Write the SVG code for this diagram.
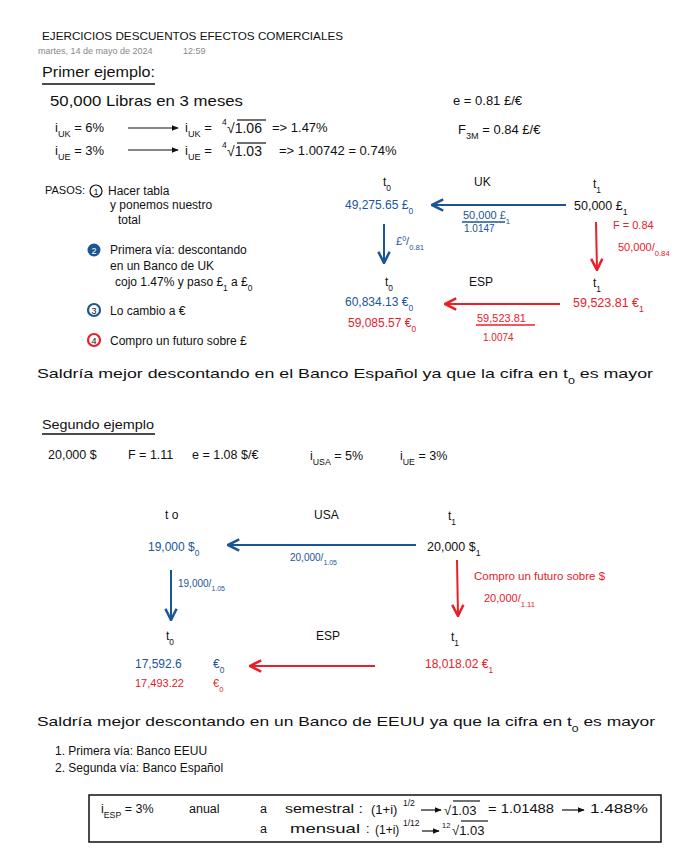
<svg xmlns="http://www.w3.org/2000/svg" width="694" height="848" viewBox="0 0 694 848">
<style>
text{font-family:"Liberation Sans","DejaVu Sans",sans-serif;fill:#111;}
.t{font-size:13px;}
.bl{fill:#1c5596;}
.rd{fill:#e8202a;}
.sub{font-size:70%;baseline-shift:sub;}
.sup{font-size:65%;baseline-shift:super;}
.ul{stroke:#111;stroke-width:1.4;fill:none;}
.ab{stroke:#1c5596;stroke-width:2;fill:none;}
.ar{stroke:#e8202a;stroke-width:2;fill:none;}
.ak{stroke:#111;stroke-width:1.2;fill:none;}
</style>
<defs>
<marker id="hb" viewBox="0 0 10 10" refX="9" refY="5" markerWidth="7" markerHeight="7" orient="auto-start-reverse"><path d="M1,1 L9,5 L1,9" fill="none" stroke="#1c5596" stroke-width="1.8"/></marker>
<marker id="hr" viewBox="0 0 10 10" refX="9" refY="5" markerWidth="7" markerHeight="7" orient="auto-start-reverse"><path d="M1,1 L9,5 L1,9" fill="none" stroke="#e8202a" stroke-width="1.8"/></marker>
<marker id="hk" viewBox="0 0 10 10" refX="9" refY="5" markerWidth="6" markerHeight="6" orient="auto"><path d="M0,1 L10,5 L0,9 Z" fill="#111"/></marker>
</defs>
<rect width="694" height="848" fill="#fff"/>

<g id="header">
<text x="42" y="40" font-size="11.5" textLength="301" lengthAdjust="spacingAndGlyphs">EJERCICIOS DESCUENTOS EFECTOS COMERCIALES</text>
<text x="38" y="54" font-size="9" style="fill:#888">martes, 14 de mayo de 2024</text>
<text x="183" y="54" font-size="9" style="fill:#888">12:59</text>
</g>

<g id="primer-ejemplo">
<text x="42" y="77" font-size="15" textLength="113" lengthAdjust="spacingAndGlyphs">Primer ejemplo:</text>
<line class="ul" x1="42" y1="84" x2="155" y2="84" stroke-width="2"/>
<text x="50" y="106" font-size="14.5" textLength="193" lengthAdjust="spacingAndGlyphs">50,000 Libras en 3 meses</text>
<text x="453" y="105" font-size="13">e = 0.81 £/€</text>
<text x="458" y="134" font-size="13">F<tspan class="sub">3M</tspan> = 0.84 £/€</text>
<text x="55" y="132" class="t">i<tspan class="sub">UK</tspan> = 6%</text>
<line class="ak" x1="128" y1="128" x2="178" y2="128" marker-end="url(#hk)"/>
<text x="185" y="132" class="t">i<tspan class="sub">UK</tspan> =</text>
<text x="222" y="125" font-size="8.5">4</text>
<text x="227" y="133" font-size="14">√1.06</text>
<line class="ak" x1="237" y1="120" x2="266" y2="120"/>
<text x="272" y="132" class="t">=&gt; 1.47%</text>
<text x="55" y="155" class="t">i<tspan class="sub">UE</tspan> = 3%</text>
<line class="ak" x1="128" y1="150" x2="178" y2="150" marker-end="url(#hk)"/>
<text x="185" y="155" class="t">i<tspan class="sub">UE</tspan> =</text>
<text x="222" y="148" font-size="8.5">4</text>
<text x="227" y="156" font-size="14">√1.03</text>
<line class="ak" x1="237" y1="143" x2="266" y2="143"/>
<text x="279" y="155" class="t">=&gt; 1.00742 = 0.74%</text>
</g>

<g id="pasos">
<text x="45" y="194" font-size="11">PASOS:</text>
<circle cx="96" cy="191" r="6" fill="#fff" stroke="#111" stroke-width="1.2"/>
<text x="96" y="195" font-size="9" text-anchor="middle">1</text>
<text x="108" y="195" font-size="12">Hacer tabla</text>
<text x="110" y="209" font-size="12">y ponemos nuestro</text>
<text x="118" y="224" font-size="12">total</text>
<circle cx="94" cy="250" r="6.5" fill="#1c5596"/>
<text x="94" y="254" font-size="9" text-anchor="middle" style="fill:#fff">2</text>
<text x="110" y="254" font-size="12">Primera vía: descontando</text>
<text x="110" y="270" font-size="12">en un Banco de UK</text>
<text x="115" y="286" font-size="12">cojo 1.47% y paso £<tspan class="sub">1</tspan> a £<tspan class="sub">0</tspan></text>
<circle cx="94" cy="310" r="6" fill="#fff" stroke="#1c5596" stroke-width="2.2"/>
<text x="94" y="314" font-size="9" text-anchor="middle">3</text>
<text x="110" y="315" font-size="12">Lo cambio a €</text>
<circle cx="94" cy="340" r="6" fill="#fff" stroke="#e8202a" stroke-width="2.2"/>
<text x="94" y="344" font-size="9" text-anchor="middle">4</text>
<text x="110" y="345" font-size="12">Compro un futuro sobre £</text>
</g>

<g id="tabla1-t0-uk">
<text x="383" y="186" font-size="12">t<tspan class="sub">0</tspan></text>
<text x="345" y="209" font-size="12" class="bl">49,275.65 £<tspan class="sub">0</tspan></text>
</g>
<g id="tabla1-uk"><text x="474" y="186" font-size="12">UK</text></g>
<g id="tabla1-t1-uk">
<text x="593" y="188" font-size="12">t<tspan class="sub">1</tspan></text>
<text x="574" y="210" font-size="12.5">50,000 £<tspan class="sub">1</tspan></text>
</g>
<g id="tabla1-t0-esp">
<text x="385" y="286" font-size="12">t<tspan class="sub">0</tspan></text>
<text x="345" y="306" font-size="12" class="bl">60,834.13 €<tspan class="sub">0</tspan></text>
<text x="348" y="327" font-size="12" class="rd">59,085.57 €<tspan class="sub">0</tspan></text>
</g>
<g id="tabla1-esp"><text x="469" y="286" font-size="12">ESP</text></g>
<g id="tabla1-t1-esp">
<text x="593" y="287" font-size="12">t<tspan class="sub">1</tspan></text>
<text x="573" y="307" font-size="12.5" class="rd">59,523.81 €<tspan class="sub">1</tspan></text>
</g>

<g id="connectors">
<line class="ab" x1="566" y1="205" x2="432" y2="205" marker-end="url(#hb)"/>
<line class="ab" x1="384" y1="224" x2="384" y2="263" marker-end="url(#hb)"/>
<line class="ar" x1="596" y1="222" x2="597" y2="270" marker-end="url(#hr)"/>
<line class="ar" x1="560" y1="304" x2="445" y2="304" marker-end="url(#hr)"/>
<line class="ab" x1="416" y1="545" x2="228" y2="545" marker-end="url(#hb)"/>
<line class="ab" x1="171" y1="570" x2="171" y2="620" marker-end="url(#hb)"/>
<line class="ar" x1="457" y1="560" x2="458" y2="616" marker-end="url(#hr)"/>
<line class="ar" x1="375" y1="666" x2="250" y2="666" marker-end="url(#hr)"/>
</g>

<g id="tabla1-labels">
<text x="463" y="219" font-size="11" class="bl">50,000 £<tspan class="sub">1</tspan></text>
<line x1="462" y1="222" x2="505" y2="222" stroke="#1c5596" stroke-width="1.4"/>
<text x="464" y="232" font-size="10" class="bl">1.0147</text>
<text x="396" y="245" font-size="11" class="bl">£<tspan class="sup">0</tspan>/<tspan class="sub">0.81</tspan></text>
<text x="613" y="229" font-size="11" class="rd">F = 0.84</text>
<text x="618" y="251" font-size="11" class="rd">50,000/<tspan class="sub">0.84</tspan></text>
<text x="477" y="322" font-size="11" class="rd">59,523.81</text>
<line x1="476" y1="325" x2="535" y2="325" stroke="#e8202a" stroke-width="1.4"/>
<text x="483" y="341" font-size="10" class="rd">1.0074</text>
</g>

<g id="conclusion1">
<text x="37" y="378" font-size="13.5" textLength="616" lengthAdjust="spacingAndGlyphs">Saldría mejor descontando en el Banco Español ya que la cifra en t<tspan class="sub">0</tspan> es mayor</text>
</g>

<g id="segundo-ejemplo">
<text x="42" y="429" font-size="12" textLength="112" lengthAdjust="spacingAndGlyphs">Segundo ejemplo</text>
<line class="ul" x1="42" y1="434" x2="155" y2="434"/>
<text x="48" y="459" font-size="12.5">20,000 $</text>
<text x="128" y="459" font-size="12.5">F = 1.11</text>
<text x="192" y="459" font-size="12.5">e = 1.08 $/€</text>
<text x="310" y="460" font-size="12.5">i<tspan class="sub">USA</tspan> = 5%</text>
<text x="400" y="460" font-size="12.5">i<tspan class="sub">UE</tspan> = 3%</text>
</g>

<g id="tabla2-t0-usa">
<text x="165" y="519" font-size="12">t o</text>
<text x="148" y="551" font-size="12" class="bl">19,000 $<tspan class="sub">0</tspan></text>
</g>
<g id="tabla2-usa"><text x="314" y="519" font-size="12">USA</text></g>
<g id="tabla2-t1-usa">
<text x="448" y="520" font-size="12">t<tspan class="sub">1</tspan></text>
<text x="427" y="551" font-size="12.5">20,000 $<tspan class="sub">1</tspan></text>
</g>
<g id="tabla2-t0-esp">
<text x="166" y="640" font-size="12">t<tspan class="sub">0</tspan></text>
<text x="135" y="668" font-size="12" class="bl">17,592.6</text>
<text x="213" y="668" font-size="12" class="bl">€<tspan class="sub">0</tspan></text>
<text x="135" y="687" font-size="11" class="rd">17,493.22</text>
<text x="213" y="687" font-size="11" class="rd">€<tspan class="sub">0</tspan></text>
</g>
<g id="tabla2-esp"><text x="316" y="640" font-size="12">ESP</text></g>
<g id="tabla2-t1-esp">
<text x="451" y="641" font-size="12">t<tspan class="sub">1</tspan></text>
<text x="425" y="668" font-size="12" class="rd">18,018.02 €<tspan class="sub">1</tspan></text>
</g>

<g id="tabla2-labels">
<text x="290" y="561" font-size="10" class="bl">20,000/<tspan class="sub">1.05</tspan></text>
<text x="178" y="587" font-size="10" class="bl">19,000/<tspan class="sub">1.05</tspan></text>
<text x="474" y="580" font-size="11.5" class="rd">Compro un futuro sobre $</text>
<text x="484" y="602" font-size="11" class="rd">20,000/<tspan class="sub">1.11</tspan></text>
</g>

<g id="conclusion2">
<text x="37" y="726" font-size="13.5" textLength="618" lengthAdjust="spacingAndGlyphs">Saldría mejor descontando en un Banco de EEUU ya que la cifra en t<tspan class="sub">0</tspan> es mayor</text>
<text x="55" y="755" font-size="12">1. Primera vía: Banco EEUU</text>
<text x="55" y="772" font-size="12">2. Segunda vía: Banco Español</text>
</g>

<g id="recuadro">
<rect x="89" y="795" width="572" height="47" fill="none" stroke="#111" stroke-width="1.5"/>
<text x="101" y="813" font-size="12.5">i<tspan class="sub">ESP</tspan> = 3%</text>
<text x="189" y="813" font-size="12.5">anual</text>
<text x="260" y="813" font-size="12.5">a</text>
<text x="285" y="813" font-size="13" textLength="78" lengthAdjust="spacingAndGlyphs">semestral :</text>
<text x="371" y="814" font-size="13">(1+i)</text>
<text x="403" y="806" font-size="8.5">1/2</text>
<line class="ak" x1="421" y1="810" x2="441" y2="810" marker-end="url(#hk)"/>
<text x="444" y="815" font-size="13">√1.03</text>
<line class="ak" x1="453" y1="801" x2="480" y2="801"/>
<text x="488" y="813" font-size="13" textLength="66" lengthAdjust="spacingAndGlyphs">= 1.01488</text>
<line class="ak" x1="562" y1="810" x2="584" y2="810" marker-end="url(#hk)"/>
<text x="590" y="813" font-size="13" textLength="58" lengthAdjust="spacingAndGlyphs">1.488%</text>
<text x="260" y="833" font-size="12.5">a</text>
<text x="290" y="833" font-size="13" textLength="70" lengthAdjust="spacingAndGlyphs">mensual</text>
<text x="366" y="833" font-size="12.5">:</text>
<text x="375" y="834" font-size="12">(1+i)</text>
<text x="403" y="826" font-size="8.5">1/12</text>
<line class="ak" x1="422" y1="831" x2="439" y2="831" marker-end="url(#hk)"/>
<text x="442" y="828" font-size="7.5">12</text>
<text x="452" y="835" font-size="13">√1.03</text>
<line class="ak" x1="461" y1="821" x2="488" y2="821"/>
</g>
</svg>
